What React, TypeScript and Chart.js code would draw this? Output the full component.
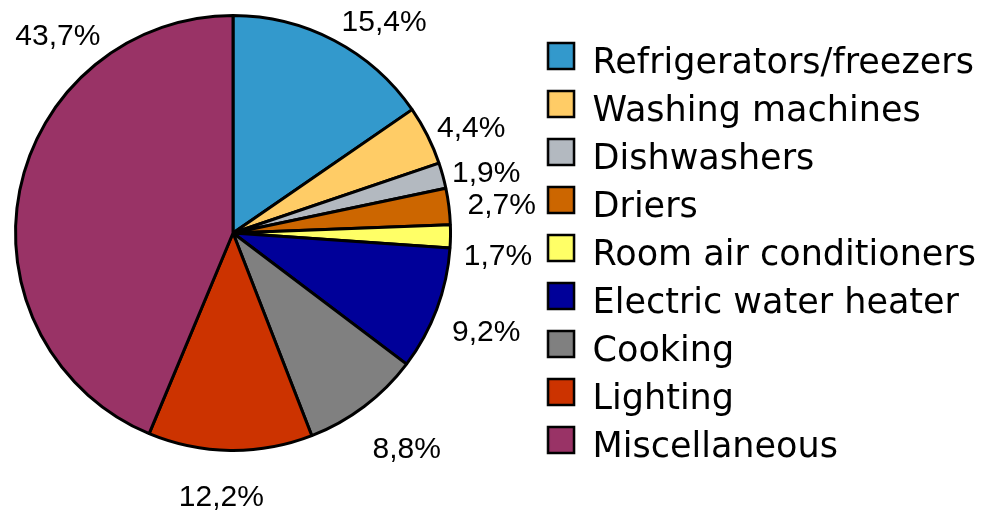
import React, { useEffect, useRef } from 'react';
import { Chart, registerables } from 'chart.js';

Chart.register(...registerables);

const categories = [
  'Refrigerators/freezers',
  'Washing machines',
  'Dishwashers',
  'Driers',
  'Room air conditioners',
  'Electric water heater',
  'Cooking',
  'Lighting',
  'Miscellaneous',
];
const shares = [15.4, 4.4, 1.9, 2.7, 1.7, 9.2, 8.8, 12.2, 43.7];
const sliceColors = [
  '#3399CC',
  '#FFCC66',
  '#B3B9C0',
  '#CC6600',
  '#FFFF66',
  '#000099',
  '#808080',
  '#CC3300',
  '#993366',
];
// label placement relative to each slice's mid-angle (degrees) and distance from centre (px)
const labelAngleShift = [7.95, 3.0, 2.2, 1.3, 4.3, 0.9, -1.6, 1.8, 36.9];
const labelDistance = [259, 260, 260, 270, 266, 272, 278, 265, 263];

const fmt = (v: number) => v.toFixed(1).replace('.', ',') + '%';

// legend marker: a bordered square sitting slightly above the text's middle line
function makeMarker(color: string): HTMLCanvasElement {
  const c = document.createElement('canvas');
  c.width = 30;
  c.height = 45;
  const g = c.getContext('2d')!;
  g.fillStyle = color;
  g.fillRect(2, 2, 26, 26);
  g.strokeStyle = '#000000';
  g.lineWidth = 2.5;
  g.strokeRect(2, 2, 26, 26);
  return c;
}

const pctLabels = {
  id: 'pctLabels',
  afterDatasetsDraw(chart: any) {
    const meta = chart.getDatasetMeta(0);
    const ctx = chart.ctx;
    ctx.save();
    ctx.font = '30px Arial, "Liberation Sans", sans-serif';
    ctx.fillStyle = '#000';
    ctx.textAlign = 'center';
    ctx.textBaseline = 'middle';
    meta.data.forEach((arc: any, i: number) => {
      const p = arc.getProps(['x', 'y', 'startAngle', 'endAngle'], true);
      const mid = (p.startAngle + p.endAngle) / 2 + (labelAngleShift[i] * Math.PI) / 180;
      const d = labelDistance[i];
      ctx.fillText(fmt(shares[i]), p.x + Math.cos(mid) * d, p.y + Math.sin(mid) * d);
    });
    ctx.restore();
  },
};

export default function App() {
  const ref = useRef<HTMLCanvasElement>(null);
  useEffect(() => {
    if (!ref.current) return;
    const markers = sliceColors.map(makeMarker);
    const baseGen = (Chart as any).overrides.pie.plugins.legend.labels.generateLabels;
    const chart = new Chart(ref.current, {
      type: 'pie',
      data: {
        labels: categories,
        datasets: [
          {
            data: shares,
            backgroundColor: sliceColors,
            borderColor: '#000000',
            borderWidth: 3,
            radius: 217.5,
          } as any,
        ],
      },
      options: {
        responsive: false,
        animation: false,
        events: [],
        layout: { padding: { left: 0, top: 0, right: 2, bottom: 34 } },
        plugins: {
          tooltip: { enabled: false },
          legend: {
            display: true,
            position: 'right',
            align: 'end',
            labels: {
              usePointStyle: true,
              pointStyleWidth: 28,
              boxWidth: 28,
              boxHeight: 26,
              padding: 13,
              color: '#000000',
              font: { family: '"DejaVu Sans", sans-serif', size: 35 },
              generateLabels: (c: any) =>
                baseGen(c).map((item: any, i: number) => ({ ...item, pointStyle: markers[i] })),
            },
          },
        },
      },
      plugins: [pctLabels],
    });
    return () => chart.destroy();
  }, []);
  return (
    <div style={{ position: 'absolute', left: 0, top: 0, width: 988, height: 512, overflow: 'hidden', background: '#fff' }}>
      <canvas
        ref={ref}
        width={1056}
        height={524}
        style={{ display: 'block', position: 'absolute', left: -68, top: -12 }}
      />
    </div>
  );
}
